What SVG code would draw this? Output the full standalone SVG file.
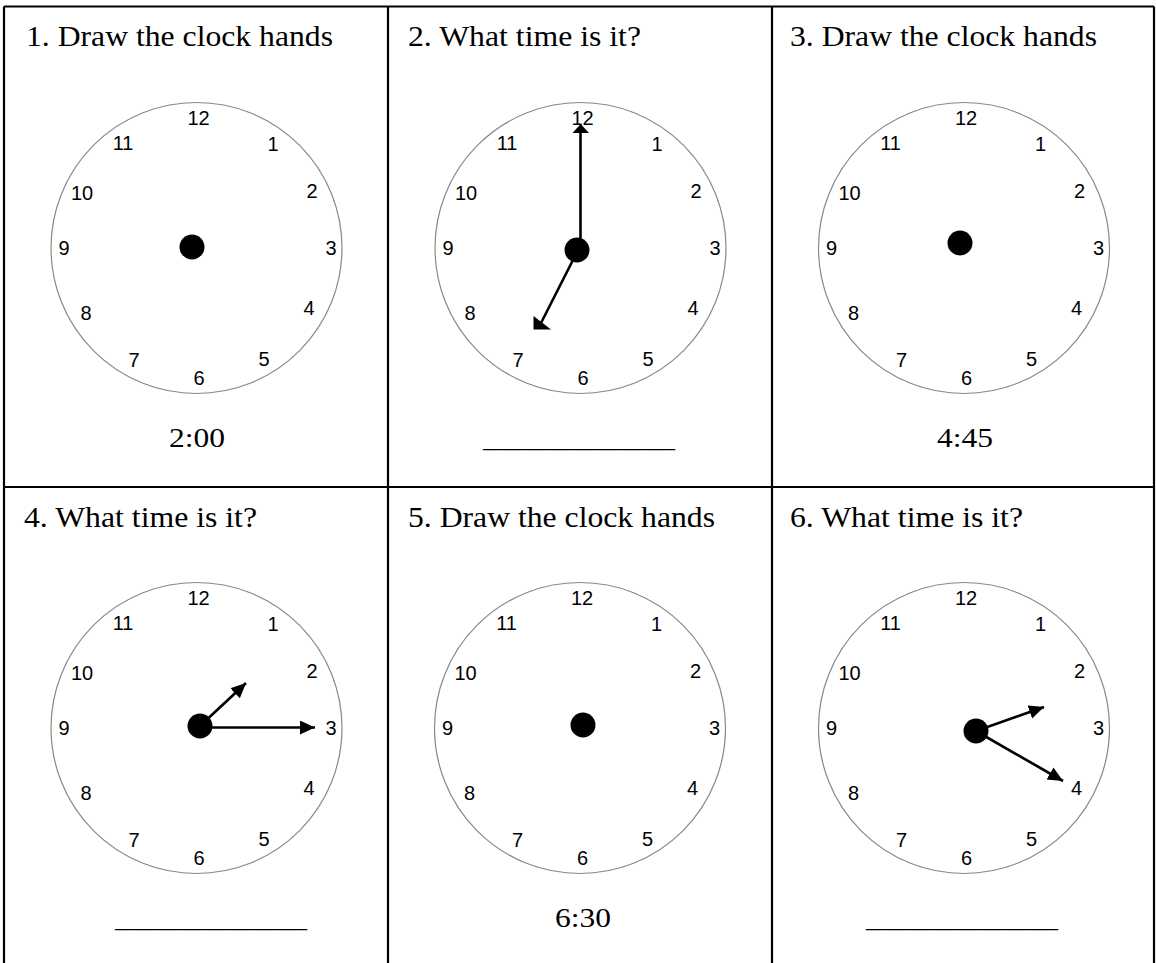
<svg xmlns="http://www.w3.org/2000/svg" xmlns:xlink="http://www.w3.org/1999/xlink" width="1156" height="963" viewBox="0 0 1156 963">
<style>
.grid{stroke:#000;stroke-width:2.2;fill:none}
.title{font-family:"Liberation Serif","Times New Roman",serif;font-size:30px;fill:#000}
.ans{font-family:"Liberation Serif","Times New Roman",serif;font-size:28px;fill:#000;text-anchor:middle}
.num{font-family:"Liberation Sans",Arial,sans-serif;font-size:20px;fill:#000;text-anchor:middle}
.face{fill:#fff;stroke:#888;stroke-width:1.2}
.hand{stroke:#000;stroke-width:2.6;fill:none}
.head{fill:#000}
</style>
<defs>
<marker id="arrow" markerUnits="userSpaceOnUse" markerWidth="16" markerHeight="15" refX="15" refY="7" orient="auto" viewBox="0 0 16 15">
<path d="M0,0 L15,7 L0,14 Z" fill="#000"/>
</marker>
<g id="clockface">
<circle class="face" cx="0" cy="0" r="145.5"/>
<text class="num" x="2" y="-123.5">12</text>
<text class="num" x="76.5" y="-97.5">1</text>
<text class="num" x="115.5" y="-50.5">2</text>
<text class="num" x="134.5" y="6.5">3</text>
<text class="num" x="112.5" y="66.5">4</text>
<text class="num" x="67.5" y="117.5">5</text>
<text class="num" x="2.5" y="136.5">6</text>
<text class="num" x="-62.5" y="118.5">7</text>
<text class="num" x="-110.5" y="71.5">8</text>
<text class="num" x="-132.5" y="6.5">9</text>
<text class="num" x="-114.5" y="-48.5">10</text>
<text class="num" x="-73.5" y="-98.5">11</text>
</g>
</defs>
<g id="grid">
<path class="grid" d="M4,6.5 H1154 M4,487 H1154 M4,6.5 V970 M388,6.5 V970 M772,6.5 V970 M1154,6.5 V970"/>
</g>
<g id="cell1">
<text class="title" x="26" y="46" textLength="307" lengthAdjust="spacingAndGlyphs">1. Draw the clock hands</text>
<use xlink:href="#clockface" x="196.5" y="248"/>
<circle cx="192" cy="247" r="12.5" fill="#000"/>
<text class="ans" x="197" y="447" textLength="56" lengthAdjust="spacingAndGlyphs">2:00</text>
</g>
<g id="cell2">
<text class="title" x="408" y="46" textLength="233" lengthAdjust="spacingAndGlyphs">2. What time is it?</text>
<use xlink:href="#clockface" x="580.5" y="248"/>
<circle cx="577" cy="250" r="12.5" fill="#000"/>
<text class="ans" x="579" y="447" textLength="192" lengthAdjust="spacingAndGlyphs">________________</text>
</g>
<g id="cell3">
<text class="title" x="790" y="46" textLength="307" lengthAdjust="spacingAndGlyphs">3. Draw the clock hands</text>
<use xlink:href="#clockface" x="964" y="248"/>
<circle cx="960" cy="243" r="12.5" fill="#000"/>
<text class="ans" x="965" y="447" textLength="56" lengthAdjust="spacingAndGlyphs">4:45</text>
</g>
<g id="cell4">
<text class="title" x="24" y="527" textLength="233" lengthAdjust="spacingAndGlyphs">4. What time is it?</text>
<use xlink:href="#clockface" x="196.5" y="728"/>
<circle cx="200" cy="726" r="12.5" fill="#000"/>
<text class="ans" x="211" y="927" textLength="192" lengthAdjust="spacingAndGlyphs">________________</text>
</g>
<g id="cell5">
<text class="title" x="408" y="527" textLength="307" lengthAdjust="spacingAndGlyphs">5. Draw the clock hands</text>
<use xlink:href="#clockface" x="580" y="728"/>
<circle cx="583" cy="725" r="12.5" fill="#000"/>
<text class="ans" x="583" y="927" textLength="56" lengthAdjust="spacingAndGlyphs">6:30</text>
</g>
<g id="cell6">
<text class="title" x="790" y="527" textLength="233" lengthAdjust="spacingAndGlyphs">6. What time is it?</text>
<use xlink:href="#clockface" x="964" y="728"/>
<circle cx="976" cy="731" r="12.5" fill="#000"/>
<text class="ans" x="962" y="927" textLength="192" lengthAdjust="spacingAndGlyphs">________________</text>
</g>
<g id="connectors">
<line class="hand" x1="580.5" y1="245" x2="580.5" y2="130"/>
<polygon class="head" points="580.7,124 572.5,133 589,133"/>
<line class="hand" x1="574" y1="258" x2="540" y2="325"/>
<polygon class="head" points="533.5,316 533.5,329.5 551,329.5"/>
<line class="hand" x1="200" y1="726" x2="246" y2="683" marker-end="url(#arrow)"/>
<line class="hand" x1="200" y1="727.5" x2="315" y2="727.5" marker-end="url(#arrow)"/>
<line class="hand" x1="976" y1="731" x2="1044" y2="707" marker-end="url(#arrow)"/>
<line class="hand" x1="976" y1="731" x2="1063" y2="781" marker-end="url(#arrow)"/>
</g>
</svg>
